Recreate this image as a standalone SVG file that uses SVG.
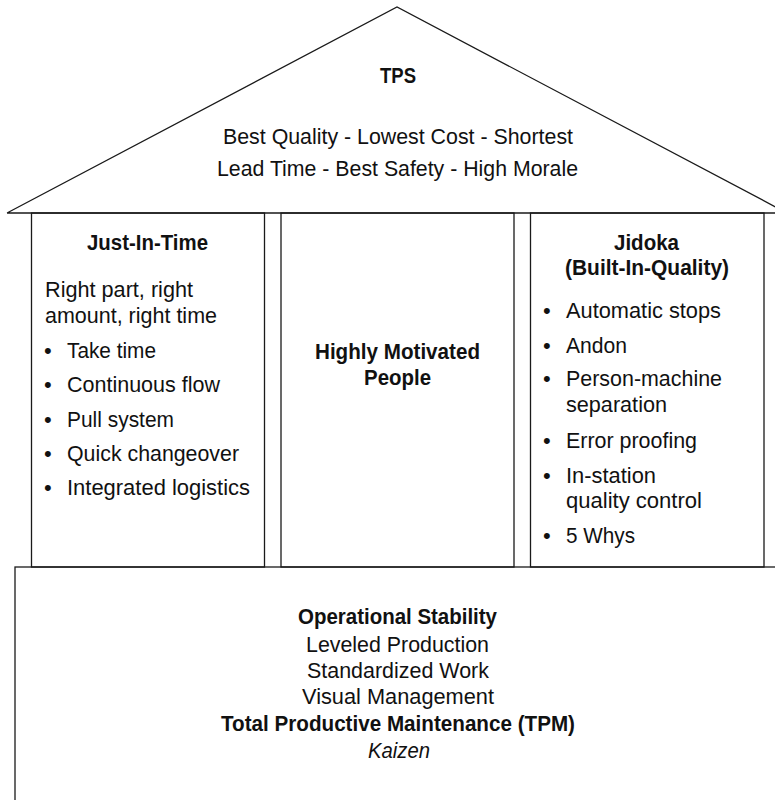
<svg xmlns="http://www.w3.org/2000/svg" width="775" height="800" viewBox="0 0 775 800">
<style>
.ln{fill:none;stroke:#1a1a1a;stroke-width:1.3}
text{font-family:"Liberation Sans",Arial,sans-serif;fill:#111;font-size:22px}
.b{font-weight:bold;font-size:21.5px}
.c{text-anchor:middle}
.i{font-style:italic}
</style>
<rect width="775" height="800" fill="#fff"/>
<g id="roof">
<polyline class="ln" points="7,213 397,7 787,213 7,213"/>
<text class="b c" x="398" y="83" textLength="36" lengthAdjust="spacingAndGlyphs">TPS</text>
<text class="c" x="398" y="144" textLength="350" lengthAdjust="spacingAndGlyphs">Best Quality - Lowest Cost - Shortest</text>
<text class="c" x="397.5" y="176" textLength="361" lengthAdjust="spacingAndGlyphs">Lead Time - Best Safety - High Morale</text>
</g>
<g id="pillar-jit">
<rect class="ln" x="31.5" y="213" width="233" height="354"/>
<text class="b c" x="147.5" y="250" textLength="121" lengthAdjust="spacingAndGlyphs">Just-In-Time</text>
<text x="45" y="297" textLength="148" lengthAdjust="spacingAndGlyphs">Right part, right</text>
<text x="45" y="323" textLength="172" lengthAdjust="spacingAndGlyphs">amount, right time</text>
<text x="44" y="358">•</text><text x="67" y="358" textLength="89" lengthAdjust="spacingAndGlyphs">Take time</text>
<text x="44" y="392">•</text><text x="67" y="392" textLength="153" lengthAdjust="spacingAndGlyphs">Continuous flow</text>
<text x="44" y="427">•</text><text x="67" y="427" textLength="107" lengthAdjust="spacingAndGlyphs">Pull system</text>
<text x="44" y="461">•</text><text x="67" y="461" textLength="172" lengthAdjust="spacingAndGlyphs">Quick changeover</text>
<text x="44" y="495">•</text><text x="67" y="495" textLength="183" lengthAdjust="spacingAndGlyphs">Integrated logistics</text>
</g>
<g id="pillar-people">
<rect class="ln" x="281" y="213" width="233" height="354"/>
<text class="b c" x="397.5" y="359" textLength="165" lengthAdjust="spacingAndGlyphs">Highly Motivated</text>
<text class="b c" x="397.5" y="385" textLength="67" lengthAdjust="spacingAndGlyphs">People</text>
</g>
<g id="pillar-jidoka">
<rect class="ln" x="530.5" y="213" width="233.5" height="354"/>
<text class="b c" x="646.5" y="250" textLength="65" lengthAdjust="spacingAndGlyphs">Jidoka</text>
<text class="b c" x="647" y="275" textLength="164" lengthAdjust="spacingAndGlyphs">(Built-In-Quality)</text>
<text x="543" y="318">•</text><text x="566" y="318" textLength="155" lengthAdjust="spacingAndGlyphs">Automatic stops</text>
<text x="543" y="353">•</text><text x="566" y="353" textLength="61" lengthAdjust="spacingAndGlyphs">Andon</text>
<text x="543" y="386">•</text><text x="566" y="386" textLength="156" lengthAdjust="spacingAndGlyphs">Person-machine</text>
<text x="566" y="412" textLength="101" lengthAdjust="spacingAndGlyphs">separation</text>
<text x="543" y="448">•</text><text x="566" y="448" textLength="131" lengthAdjust="spacingAndGlyphs">Error proofing</text>
<text x="543" y="483">•</text><text x="566" y="483" textLength="90" lengthAdjust="spacingAndGlyphs">In-station</text>
<text x="566" y="508" textLength="136" lengthAdjust="spacingAndGlyphs">quality control</text>
<text x="543" y="543">•</text><text x="566" y="543" textLength="69" lengthAdjust="spacingAndGlyphs">5 Whys</text>
</g>
<g id="foundation">
<rect class="ln" x="15" y="567" width="790" height="260"/>
<text class="b c" x="397.5" y="624" textLength="199" lengthAdjust="spacingAndGlyphs">Operational Stability</text>
<text class="c" x="397.5" y="652" textLength="183" lengthAdjust="spacingAndGlyphs">Leveled Production</text>
<text class="c" x="398" y="678" textLength="182" lengthAdjust="spacingAndGlyphs">Standardized Work</text>
<text class="c" x="398" y="704" textLength="192" lengthAdjust="spacingAndGlyphs">Visual Management</text>
<text class="b c" x="398" y="731" textLength="354" lengthAdjust="spacingAndGlyphs">Total Productive Maintenance (TPM)</text>
<text class="i c" x="399" y="758" textLength="62" lengthAdjust="spacingAndGlyphs">Kaizen</text>
</g>
<g id="connectors"></g>
</svg>
